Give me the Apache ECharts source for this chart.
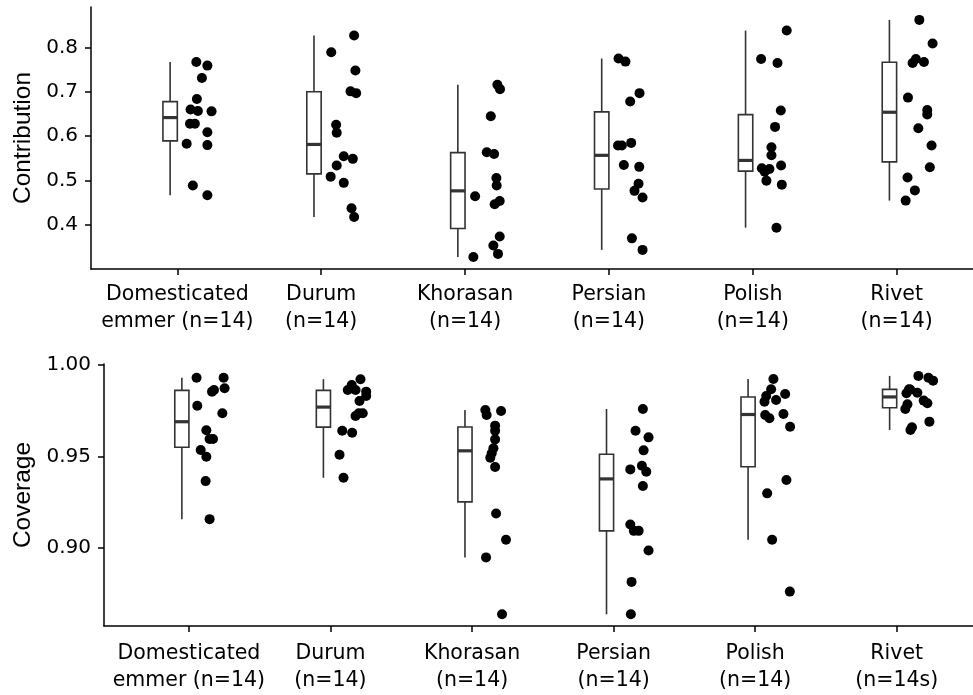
<!DOCTYPE html>
<html>
<head>
<meta charset="utf-8">
<script src="https://cdn.jsdelivr.net/npm/echarts@6/dist/echarts.min.js"></script>
<style>
  html, body { margin: 0; padding: 0; background: #ffffff; }
  #chart { width: 973px; height: 695px; }
</style>
</head>
<body>
<div id="chart"></div>
<script>
// Wheat groups, top panel tick labels and bottom panel tick labels
const contributionLabels = ['Domesticated\nemmer (n=14)', 'Durum\n(n=14)', 'Khorasan\n(n=14)', 'Persian\n(n=14)', 'Polish\n(n=14)', 'Rivet\n(n=14)'];
const coverageLabels = ['Domesticated\nemmer (n=14)', 'Durum\n(n=14)', 'Khorasan\n(n=14)', 'Persian\n(n=14)', 'Polish\n(n=14)', 'Rivet\n(n=14s)'];
const contributionTicks = [0.4, 0.5, 0.6, 0.7, 0.8];
const coverageTicks = [0.90, 0.95, 1.00];

// Contribution per sample
const contributionDomesticated = [0.767, 0.759, 0.731, 0.684, 0.660, 0.657, 0.656, 0.628, 0.628, 0.609, 0.583, 0.580, 0.489, 0.467];
const contributionDurum = [0.827, 0.789, 0.748, 0.701, 0.697, 0.626, 0.608, 0.555, 0.549, 0.534, 0.509, 0.495, 0.438, 0.418];
const contributionKhorasan = [0.716, 0.706, 0.645, 0.564, 0.560, 0.506, 0.489, 0.465, 0.454, 0.447, 0.374, 0.354, 0.335, 0.328];
const contributionPersian = [0.775, 0.768, 0.697, 0.678, 0.579, 0.579, 0.585, 0.535, 0.531, 0.493, 0.477, 0.462, 0.370, 0.344];
const contributionPolish = [0.838, 0.774, 0.765, 0.658, 0.621, 0.575, 0.557, 0.528, 0.526, 0.520, 0.500, 0.534, 0.491, 0.394];
const contributionRivet = [0.862, 0.809, 0.774, 0.765, 0.767, 0.687, 0.659, 0.649, 0.618, 0.579, 0.530, 0.507, 0.478, 0.455];

// Horizontal jitter of each contribution point (category units)
const contributionJitterDomesticated = [0.132, 0.209, 0.171, 0.136, 0.092, 0.143, 0.238, 0.088, 0.122, 0.209, 0.065, 0.209, 0.108, 0.209];
const contributionJitterDurum = [0.229, 0.070, 0.238, 0.204, 0.243, 0.104, 0.108, 0.157, 0.220, 0.108, 0.066, 0.157, 0.211, 0.229];
const contributionJitterKhorasan = [0.225, 0.243, 0.179, 0.151, 0.202, 0.218, 0.220, 0.070, 0.241, 0.206, 0.241, 0.197, 0.229, 0.058];
const contributionJitterPersian = [0.067, 0.115, 0.213, 0.148, 0.063, 0.090, 0.155, 0.104, 0.211, 0.206, 0.178, 0.234, 0.160, 0.234];
const contributionJitterPolish = [0.236, 0.058, 0.172, 0.195, 0.155, 0.130, 0.130, 0.063, 0.116, 0.083, 0.095, 0.197, 0.202, 0.165];
const contributionJitterRivet = [0.158, 0.250, 0.134, 0.111, 0.190, 0.079, 0.213, 0.213, 0.151, 0.243, 0.231, 0.076, 0.127, 0.063];

// Coverage per sample
const coverageDomesticated = [0.9930, 0.9930, 0.9872, 0.9863, 0.9854, 0.9777, 0.9736, 0.9643, 0.9595, 0.9595, 0.9535, 0.9498, 0.9365, 0.9157];
const coverageDurum = [0.9922, 0.9863, 0.9863, 0.9854, 0.9830, 0.9803, 0.9736, 0.9721, 0.9640, 0.9629, 0.9509, 0.9383, 0.9736, 0.9890];
const coverageKhorasan = [0.9754, 0.9748, 0.9726, 0.9668, 0.9593, 0.9544, 0.9517, 0.9493, 0.9442, 0.9188, 0.9044, 0.8948, 0.8637, 0.9640];
const coveragePersian = [0.9759, 0.9640, 0.9604, 0.9533, 0.9429, 0.9449, 0.9416, 0.9338, 0.9128, 0.9093, 0.9093, 0.8986, 0.8814, 0.8637];
const coveragePolish = [0.9923, 0.9867, 0.9841, 0.9830, 0.9808, 0.9799, 0.9732, 0.9726, 0.9708, 0.9662, 0.9371, 0.9298, 0.9044, 0.8761];
const coverageRivet = [0.9940, 0.9930, 0.9914, 0.9867, 0.9845, 0.9848, 0.9805, 0.9790, 0.9785, 0.9759, 0.9690, 0.9659, 0.9644, 0.9865];

// Horizontal jitter of each coverage point (category units)
const coverageJitterDomesticated = [0.054, 0.245, 0.252, 0.177, 0.163, 0.059, 0.236, 0.123, 0.146, 0.170, 0.083, 0.123, 0.118, 0.146];
const coverageJitterDurum = [0.212, 0.122, 0.177, 0.252, 0.252, 0.205, 0.228, 0.177, 0.083, 0.153, 0.064, 0.092, 0.200, 0.150];
const coverageJitterKhorasan = [0.094, 0.205, 0.103, 0.163, 0.163, 0.151, 0.139, 0.129, 0.163, 0.170, 0.240, 0.099, 0.212, 0.163];
const coverageJitterPersian = [0.207, 0.155, 0.247, 0.212, 0.118, 0.200, 0.231, 0.207, 0.118, 0.143, 0.177, 0.247, 0.127, 0.122];
const coverageJitterPolish = [0.129, 0.113, 0.212, 0.078, 0.148, 0.066, 0.200, 0.071, 0.101, 0.247, 0.221, 0.085, 0.120, 0.245];
const coverageJitterRivet = [0.153, 0.224, 0.257, 0.087, 0.069, 0.146, 0.191, 0.217, 0.076, 0.061, 0.231, 0.108, 0.097, 0.095];

const contributionGroups = [contributionDomesticated, contributionDurum, contributionKhorasan, contributionPersian, contributionPolish, contributionRivet];
const contributionJitter = [contributionJitterDomesticated, contributionJitterDurum, contributionJitterKhorasan, contributionJitterPersian, contributionJitterPolish, contributionJitterRivet];
const coverageGroups = [coverageDomesticated, coverageDurum, coverageKhorasan, coveragePersian, coveragePolish, coverageRivet];
const coverageJitter = [coverageJitterDomesticated, coverageJitterDurum, coverageJitterKhorasan, coverageJitterPersian, coverageJitterPolish, coverageJitterRivet];

// Box placement relative to the category centre
const BOX_SHIFT = -0.05;
const BOX_WIDTH = 0.1;
const INK = '#000000';
const BOX_INK = '#333333';
const TICK_FONT = 'DejaVu Sans';
const TITLE_FONT = 'Liberation Sans';

function quantile(sorted, p) {
  const h = (sorted.length - 1) * p;
  const lo = Math.floor(h);
  const hi = Math.min(lo + 1, sorted.length - 1);
  return sorted[lo] + (h - lo) * (sorted[hi] - sorted[lo]);
}

// Tukey box: quartiles, whiskers to the furthest point within 1.5 IQR
function boxStats(values) {
  const s = values.slice().sort((a, b) => a - b);
  const q1 = quantile(s, 0.25), med = quantile(s, 0.5), q3 = quantile(s, 0.75);
  const iqr = q3 - q1;
  const low = s.find(v => v >= q1 - 1.5 * iqr);
  const high = s.slice().reverse().find(v => v <= q3 + 1.5 * iqr);
  return [low, q1, med, q3, high];
}

function renderBox(params, api) {
  const x = api.value(0);
  const cLow = api.coord([x, api.value(1)]);
  const cQ1 = api.coord([x, api.value(2)]);
  const cMed = api.coord([x, api.value(3)]);
  const cQ3 = api.coord([x, api.value(4)]);
  const cHigh = api.coord([x, api.value(5)]);
  const half = api.size([BOX_WIDTH, 0])[0] / 2;
  const thin = { stroke: BOX_INK, lineWidth: 1.6 };
  return {
    type: 'group',
    children: [
      { type: 'line', shape: { x1: cHigh[0], y1: cHigh[1], x2: cQ3[0], y2: cQ3[1] }, style: thin },
      { type: 'line', shape: { x1: cQ1[0], y1: cQ1[1], x2: cLow[0], y2: cLow[1] }, style: thin },
      { type: 'rect', shape: { x: cQ3[0] - half, y: cQ3[1], width: half * 2, height: cQ1[1] - cQ3[1] },
        style: { fill: '#ffffff', stroke: BOX_INK, lineWidth: 1.6 } },
      { type: 'line', shape: { x1: cMed[0] - half, y1: cMed[1], x2: cMed[0] + half, y2: cMed[1] },
        style: { stroke: BOX_INK, lineWidth: 3.2 } }
    ]
  };
}

function boxData(groups) {
  return groups.map((g, i) => [i + 1 + BOX_SHIFT].concat(boxStats(g)));
}

function pointData(groups, jitter) {
  const out = [];
  groups.forEach((g, i) => g.forEach((v, k) => out.push([i + 1 + jitter[i][k], v])));
  return out;
}

function xAxisFor(gridIndex, labels, max, margin) {
  const positions = labels.map((_, i) => i + 1);
  return {
    type: 'value', gridIndex, min: 0.4, max,
    axisLine: { show: true, onZero: false, lineStyle: { color: INK, width: 1.5 } },
    axisTick: { show: true, length: 6, lineStyle: { color: INK, width: 1.5 }, customValues: positions },
    axisLabel: {
      show: true, customValues: positions, margin,
      formatter: v => labels[Math.round(v) - 1] || '',
      fontFamily: TICK_FONT, fontSize: 20.5, color: '#000000', lineHeight: 27, align: 'center'
    },
    splitLine: { show: false }
  };
}

function yAxisFor(gridIndex, name, min, max, ticks, digits, gap) {
  return {
    type: 'value', gridIndex, min, max, name,
    nameLocation: 'middle', nameGap: gap, nameRotate: 90,
    nameTextStyle: { fontFamily: TITLE_FONT, fontSize: 24.5, color: '#000000' },
    axisLine: { show: true, onZero: false, lineStyle: { color: INK, width: 1.5 } },
    axisTick: { show: true, length: 6, lineStyle: { color: INK, width: 1.5 }, customValues: ticks },
    axisLabel: {
      show: true, customValues: ticks, margin: 13,
      formatter: v => Number(v).toFixed(digits),
      fontFamily: TICK_FONT, fontSize: 20, color: '#000000'
    },
    splitLine: { show: false }
  };
}

const chart = echarts.init(document.getElementById('chart'), null, { renderer: 'canvas' });
chart.setOption({
  animation: false,
  backgroundColor: '#ffffff',
  grid: [
    { left: 91, right: 0, top: 7, height: 262 },
    { left: 104, right: 0, top: 364, height: 262 }
  ],
  xAxis: [
    xAxisFor(0, contributionLabels, 6.531, 12),
    xAxisFor(1, coverageLabels, 6.539, 14)
  ],
  yAxis: [
    yAxisFor(0, 'Contribution', 0.301, 0.891, contributionTicks, 1, 53),
    yAxisFor(1, 'Coverage', 0.8573, 1.0005, coverageTicks, 2, 66)
  ],
  series: [
    { type: 'custom', xAxisIndex: 0, yAxisIndex: 0, renderItem: renderBox, data: boxData(contributionGroups), z: 2 },
    { type: 'scatter', xAxisIndex: 0, yAxisIndex: 0, data: pointData(contributionGroups, contributionJitter),
      symbolSize: 10, itemStyle: { color: INK, opacity: 1 }, z: 3 },
    { type: 'custom', xAxisIndex: 1, yAxisIndex: 1, renderItem: renderBox, data: boxData(coverageGroups), z: 2 },
    { type: 'scatter', xAxisIndex: 1, yAxisIndex: 1, data: pointData(coverageGroups, coverageJitter),
      symbolSize: 10, itemStyle: { color: INK, opacity: 1 }, z: 3 }
  ]
});
</script>
</body>
</html>
